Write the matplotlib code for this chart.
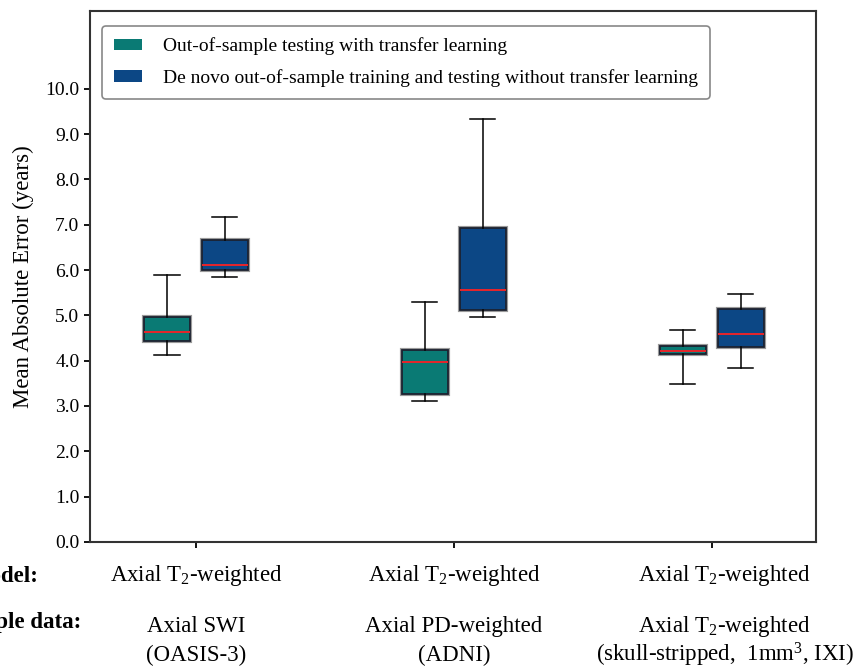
import matplotlib
matplotlib.use('Agg')
import matplotlib.pyplot as plt
import matplotlib.patches as mpatches
import matplotlib.patheffects as pe
import numpy as np

plt.rcParams['font.family'] = ['Liberation Serif', 'DejaVu Serif']
plt.rcParams['mathtext.fontset'] = 'custom'
plt.rcParams['mathtext.rm'] = 'Liberation Serif'
plt.rcParams['mathtext.it'] = 'Liberation Serif:italic'

# five-number summaries per group: [whislo, q1, median, q3, whishi]
transfer = [
    [4.13, 4.43, 4.63, 4.97, 5.89],
    [3.11, 3.26, 3.97, 4.24, 5.29],
    [3.48, 4.14, 4.22, 4.32, 4.67],
]
de_novo = [
    [5.84, 6.00, 6.11, 6.67, 7.17],
    [4.96, 5.11, 5.56, 6.94, 9.33],
    [3.83, 4.30, 4.58, 5.14, 5.47],
]
model_labels = ['Axial T$_2$-weighted', 'Axial T$_2$-weighted', 'Axial T$_2$-weighted']
sample_line1 = ['Axial SWI', 'Axial PD-weighted', 'Axial T$_2$-weighted']
sample_line2 = ['(OASIS-3)', '(ADNI)', '(skull-stripped,  1mm$^3$, IXI)']
legend_labels = ['Out-of-sample testing with transfer learning',
                 'De novo out-of-sample training and testing without transfer learning']
colors = ['#0a7a74', '#0c4785']


def to_stats(rows):
    return [dict(whislo=r[0], q1=r[1], med=r[2], q3=r[3], whishi=r[4], fliers=[])
            for r in rows]


fig = plt.figure(figsize=(8.56, 6.69), dpi=100)
ax = fig.add_axes([0.105, 0.19, 0.848, 0.7936])

groups = np.arange(1, 4)
offset = 0.112
for stats, shift, col in [(transfer, -offset, colors[0]), (de_novo, offset, colors[1])]:
    bp = ax.bxp(to_stats(stats), positions=groups + shift, widths=0.178,
                patch_artist=True, showfliers=False, capwidths=0.097,
                manage_ticks=False,
                boxprops=dict(facecolor=col, edgecolor='#1c2230', linewidth=1.3),
                medianprops=dict(color='#e8252a', linewidth=1.4),
                whiskerprops=dict(color='black', linewidth=1.1),
                capprops=dict(color='black', linewidth=1.1))
    for b in bp['boxes']:
        b.set_path_effects([pe.Stroke(linewidth=3, foreground='#9a9a9a'), pe.Normal()])

ax.set_xlim(0.589, 3.403)
ax.set_ylim(0, 11.72)
ax.set_yticks(np.arange(0, 10.5, 1.0))
ax.set_yticklabels([f'{v:.1f}' for v in np.arange(0, 10.5, 1.0)], fontsize=14)
ax.set_xticks(groups)
ax.set_xticklabels([])
ax.tick_params(axis='both', length=4, width=1.3)
ax.set_ylabel('Mean Absolute Error (years)', fontsize=16.5, labelpad=8)
for s in ax.spines.values():
    s.set_linewidth(1.5)
    s.set_color('#333333')

handles = [mpatches.Patch(facecolor=c, edgecolor='none') for c in colors]
leg = ax.legend(handles, legend_labels, loc='upper left', fontsize=14,
                bbox_to_anchor=(0.0165, 0.972), borderaxespad=0,
                handlelength=1.45, handleheight=0.55, handletextpad=1.1,
                frameon=True, fancybox=True, edgecolor='#888888', framealpha=1,
                borderpad=0.6, labelspacing=0.7)
leg.get_frame().set_linewidth(1.2)

# group captions under the axis
label_x = [1, 2, 3.05]
trans = ax.get_xaxis_transform()
for x, m, s1, s2 in zip(label_x, model_labels, sample_line1, sample_line2):
    ax.text(x, -0.064, m, transform=trans, ha='center', va='center', fontsize=16.5)
    ax.text(x, -0.160, s1, transform=trans, ha='center', va='center', fontsize=16.5)
    ax.text(x, -0.213, s2, transform=trans, ha='center', va='center', fontsize=16.5)

fig.text(-0.037, 0.139, 'Model:', fontsize=16.5, fontweight='bold', va='center')
fig.text(-0.056, 0.070, 'Sample data:', fontsize=16.5, fontweight='bold', va='center')

fig.savefig('out.png', dpi=100)
